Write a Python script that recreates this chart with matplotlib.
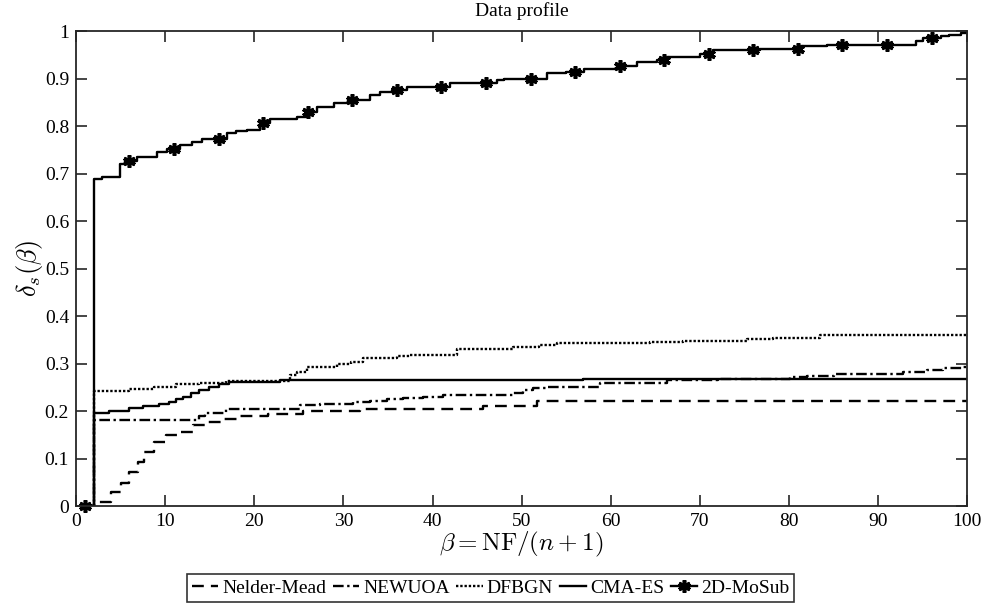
import numpy as np
import matplotlib.pyplot as plt

plt.rcParams['font.family'] = ['Liberation Serif', 'DejaVu Serif']
plt.rcParams['mathtext.fontset'] = 'cm'

# step breakpoints (beta) and data profile values for each solver
nm_x = [1, 2, 3.9, 5.0, 5.9, 7.0, 7.6, 8.8, 10.1, 11.6, 13.1, 14.8, 16.6, 18.3, 21.5,
        25.5, 31.9, 45.7, 51.7, 100]
nm_y = [0, 0.008, 0.03, 0.048, 0.072, 0.093, 0.114, 0.135, 0.149, 0.156, 0.17, 0.177,
        0.183, 0.19, 0.195, 0.2, 0.204, 0.211, 0.222, 0.222]

newuoa_x = [1, 2, 13.8, 14.5, 16.8, 25.1, 27.4, 31.1, 33, 34.9, 36.7, 38.9, 41.2, 49,
            50.2, 51.3, 52.9, 58.8, 66.3, 72, 80.1, 82, 85, 92.8, 95.5, 97.3, 99.5, 100]
newuoa_y = [0, 0.182, 0.19, 0.197, 0.205, 0.212, 0.216, 0.219, 0.221, 0.225, 0.228, 0.23,
            0.235, 0.238, 0.244, 0.248, 0.251, 0.259, 0.265, 0.268, 0.272, 0.274, 0.278,
            0.282, 0.286, 0.29, 0.293, 0.293]

dfbgn_x = [1, 2, 6, 8.7, 11.2, 13.8, 16.8, 24, 24.8, 25.9, 29.3, 30.8, 32.2, 36, 37.5,
           42.8, 49, 52, 54, 64.4, 68.1, 75.3, 78.2, 83.5, 100]
dfbgn_y = [0, 0.242, 0.246, 0.25, 0.257, 0.259, 0.264, 0.276, 0.282, 0.293, 0.3, 0.304,
           0.311, 0.316, 0.319, 0.33, 0.335, 0.34, 0.343, 0.346, 0.348, 0.351, 0.354,
           0.36, 0.36]

cma_x = [1, 2, 3.7, 6, 7.5, 9.3, 10.4, 11.2, 12, 12.9, 13.8, 14.9, 16, 17.2, 22.9, 56.9, 100]
cma_y = [0, 0.196, 0.2, 0.206, 0.21, 0.215, 0.219, 0.225, 0.23, 0.238, 0.244, 0.25,
         0.257, 0.261, 0.265, 0.268, 0.268]

mosub_x = [1, 2, 2.9, 4.9, 5.5, 6.8, 9.05, 10.2, 11.7, 13, 14.1, 16.9, 18, 19.2, 20.7,
           21.8, 24.8, 25.9, 27, 28.9, 30.5, 33, 34.1, 35.5, 37.1, 42, 47.2, 48, 52.8,
           55, 57, 60.7, 62.9, 65.2, 66.3, 70, 71.5, 76.8, 81.3, 84.3, 94.3, 95, 97, 98,
           99.3, 100]
mosub_y = [0, 0.688, 0.693, 0.72, 0.727, 0.735, 0.746, 0.753, 0.76, 0.767, 0.772, 0.785,
           0.79, 0.793, 0.806, 0.816, 0.82, 0.83, 0.84, 0.848, 0.855, 0.865, 0.872, 0.876,
           0.883, 0.89, 0.897, 0.9, 0.911, 0.915, 0.92, 0.926, 0.935, 0.939, 0.946, 0.953,
           0.96, 0.963, 0.968, 0.972, 0.98, 0.985, 0.99, 0.993, 0.997, 1.0]

mark_x = np.arange(1, 100, 5)

fig = plt.figure(figsize=(9.87, 6.12), dpi=100)
ax = fig.add_axes([0.077, 0.173, 0.903, 0.776])

lw = 1.7
ax.plot(nm_x, nm_y, drawstyle='steps-post', color='k', lw=lw,
        dashes=(5, 3), label='Nelder-Mead')
ax.plot(newuoa_x, newuoa_y, drawstyle='steps-post', color='k', lw=lw,
        dashes=(4.5, 1.5, 1, 1.5), label='NEWUOA')
ax.plot(dfbgn_x, dfbgn_y, drawstyle='steps-post', color='k', lw=lw,
        dashes=(1, 0.8), label='DFBGN')
ax.plot(cma_x, cma_y, drawstyle='steps-post', color='k', lw=lw, label='CMA-ES')
ax.plot(mosub_x, mosub_y, drawstyle='steps-post', color='k', lw=lw)

idx = np.searchsorted(mosub_x, mark_x, side='right') - 1
mark_y = np.array(mosub_y)[idx]
ax.plot(mark_x, mark_y, ls='none', marker=(6, 2, 0), ms=9, mew=2.6, color='k',
        clip_on=False)
ax.plot([], [], color='k', lw=lw, marker=(6, 2, 0), ms=9, mew=2.6, label='2D-MoSub')

ax.set_xlim(0, 100)
ax.set_ylim(0, 1)
ax.set_xticks(np.arange(0, 101, 10))
ax.set_yticks(np.arange(0, 1.01, 0.1))
ax.set_yticklabels(['0', '0.1', '0.2', '0.3', '0.4', '0.5', '0.6', '0.7', '0.8', '0.9', '1'])
ax.tick_params(direction='in', length=8, width=1.2, top=True, right=True,
               labelsize=14, colors='#262626', labelcolor='k', pad=5)
for s in ax.spines.values():
    s.set_linewidth(1.3)
    s.set_color('#262626')

ax.set_title('Data profile', fontsize=14, pad=11)
ax.set_xlabel(r'$\beta = \mathrm{NF}/(n+1)$', fontsize=18, labelpad=0)
ax.set_ylabel(r'$\delta_s(\beta)$', fontsize=19, labelpad=0)

leg = fig.legend(loc='center', bbox_to_anchor=(0.497, 0.039), ncol=5, fontsize=14,
                 frameon=True, fancybox=False, edgecolor='k', handlelength=1.35,
                 handletextpad=0.2, columnspacing=0.35, borderpad=0.25,
                 borderaxespad=0)
leg.get_frame().set_linewidth(1.2)

fig.savefig('out.png', dpi=100)
